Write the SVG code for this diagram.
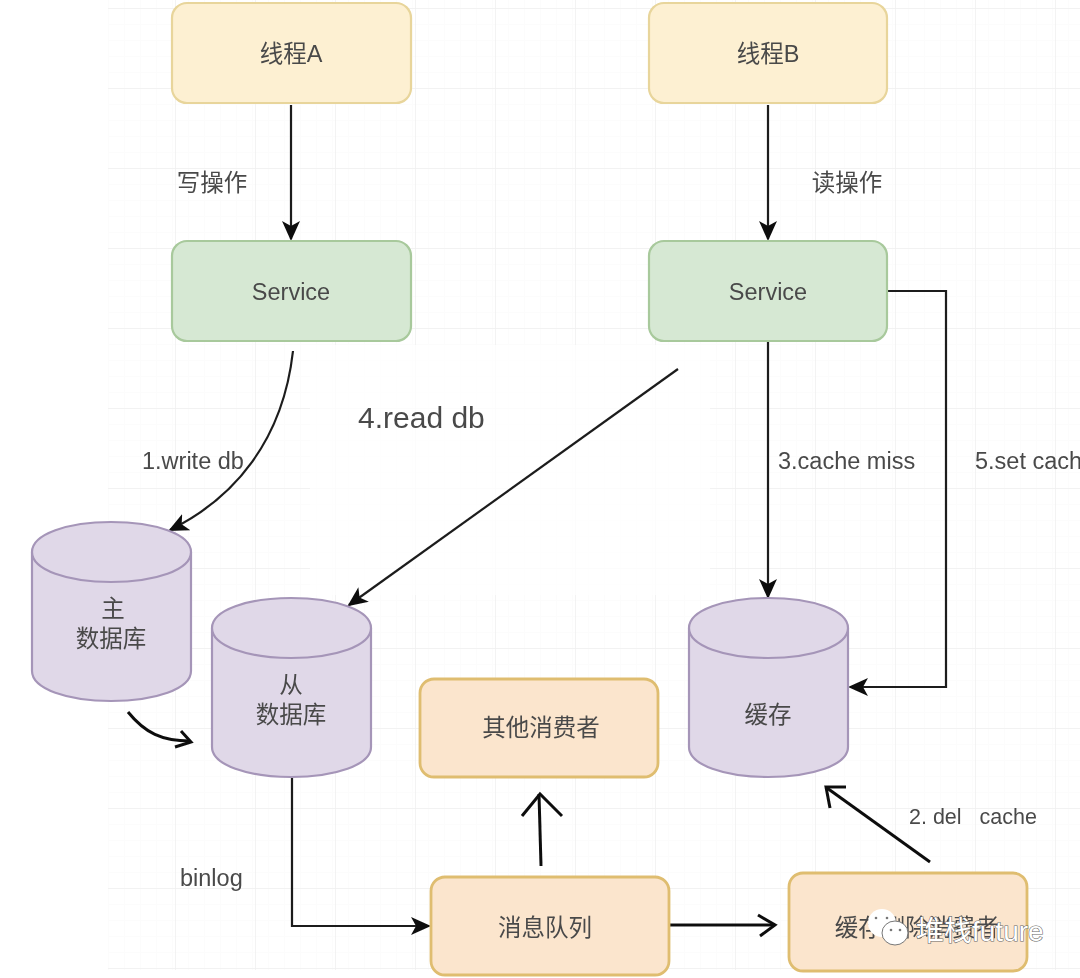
<svg xmlns="http://www.w3.org/2000/svg" width="1080" height="978" viewBox="0 0 1080 978">
<style>
text{font-family:"Liberation Sans","Noto Sans CJK SC",sans-serif;font-size:23.5px;fill:#4a4a4a;text-anchor:middle}
.lab{text-anchor:start}
.yellow{fill:#fdf0d2;stroke:#e8d59b;stroke-width:2.2}
.green{fill:#d6e8d3;stroke:#a8c99c;stroke-width:2.2}
.orange{fill:#fbe5cd;stroke:#dfbd70;stroke-width:2.8}
.db{fill:#e0d8e8;stroke:#a595b8;stroke-width:2.2}
.c{fill:none;stroke:#1f1f1f;stroke-width:2.2}
.h{fill:none;stroke:#111;stroke-width:3}
.mn{stroke:#fafafa;stroke-width:1}
.mj{stroke:#f0f0f0;stroke-width:1.5}
</style>
<defs>
<marker id="tipL" markerWidth="22" markerHeight="20" refX="18" refY="10" orient="auto" markerUnits="userSpaceOnUse" viewBox="0 0 22 20"><path d="M0 1L20 10L0 19L5 10Z" fill="#111"/></marker>
<pattern id="minor" x="108" y="8" width="16" height="16" patternUnits="userSpaceOnUse"><path d="M0 0H16M0 0V16" class="mn" fill="none"/></pattern>
<pattern id="major" x="15" y="8" width="80" height="80" patternUnits="userSpaceOnUse"><path d="M0 0H80M0 0V80" class="mj" fill="none"/></pattern>
<filter id="soft" x="-5%" y="-5%" width="110%" height="110%"><feGaussianBlur stdDeviation="0.5"/></filter>
</defs>
<rect width="1080" height="978" fill="#fff"/>
<g id="grid">
<rect x="108" y="0" width="972" height="970" fill="url(#minor)"/>
<rect x="108" y="0" width="972" height="970" fill="url(#major)"/>
<rect x="310" y="345" width="400" height="250" fill="#fff" opacity="0.75"/>
</g>
<g filter="url(#soft)">
<g id="connectors">
<path class="c" d="M291 105V239" marker-end="url(#tipL)"/>
<path class="c" d="M768 105V239" marker-end="url(#tipL)"/>
<path class="c" d="M293 351C283 440 235 498 170 530" marker-end="url(#tipL)"/>
<path class="c" d="M678 369L349 605" marker-end="url(#tipL)"/>
<path class="c" d="M768 341V597" marker-end="url(#tipL)"/>
<path class="c" d="M888 291H946V687H850" marker-end="url(#tipL)"/>
<path class="c" d="M292 778V926H429" marker-end="url(#tipL)"/>
<path class="h" d="M128 712C145 733 162 741 190 741"/>
<path class="h" d="M175 747L191 742L181 731"/>
<path class="h" d="M541 866L539 794"/>
<path class="h" d="M522 816L540 794L562 816"/>
<path class="h" d="M670 925H774"/>
<path class="h" d="M758 915L775 925L760 936"/>
<path class="h" d="M930 862L827 788"/>
<path class="h" d="M846 787L826 787L830 808"/>
</g>
<g id="thread-a"><rect class="yellow" x="172" y="3" width="239" height="100" rx="15"/><text x="291" y="62">线程A</text></g>
<g id="thread-b"><rect class="yellow" x="649" y="3" width="238" height="100" rx="15"/><text x="768" y="62">线程B</text></g>
<g id="service-a"><rect class="green" x="172" y="241" width="239" height="100" rx="15"/><text x="291" y="300">Service</text></g>
<g id="service-b"><rect class="green" x="649" y="241" width="238" height="100" rx="15"/><text x="768" y="300">Service</text></g>
<g id="master-db"><path class="db" d="M32 552C32 534 68 522 111 522C155 522 191 534 191 552V671C191 689 155 701 111 701C68 701 32 689 32 671Z"/><path class="db" d="M32 552C32 570 68 582 111 582C155 582 191 570 191 552"/><text x="113" y="617">主</text><text x="111" y="647">数据库</text></g>
<g id="replica-db"><path class="db" d="M212 628C212 610 248 598 291 598C335 598 371 610 371 628V747C371 765 335 777 291 777C248 777 212 765 212 747Z"/><path class="db" d="M212 628C212 646 248 658 291 658C335 658 371 646 371 628"/><text x="291" y="693">从</text><text x="291" y="723">数据库</text></g>
<g id="cache"><path class="db" d="M689 628C689 610 725 598 768 598C812 598 848 610 848 628V747C848 765 812 777 768 777C725 777 689 765 689 747Z"/><path class="db" d="M689 628C689 646 725 658 768 658C812 658 848 646 848 628"/><text x="768" y="723">缓存</text></g>
<g id="other-consumers"><rect class="orange" x="420" y="679" width="238" height="98" rx="14"/><text x="541" y="736">其他消费者</text></g>
<g id="message-queue"><rect class="orange" x="431" y="877" width="238" height="98" rx="14"/><text x="545" y="936">消息队列</text></g>
<g id="cache-delete"><rect class="orange" x="789" y="873" width="238" height="98" rx="14"/><text x="917" y="936">缓存删除消费者</text></g>
<g id="labels">
<text x="212" y="191">写操作</text>
<text x="847" y="191">读操作</text>
<text class="lab" x="142" y="469">1.write db</text>
<text class="lab" x="358" y="428" style="font-size:30px">4.read db</text>
<text class="lab" x="778" y="469">3.cache miss</text>
<text class="lab" x="975" y="469">5.set cache</text>
<text class="lab" x="180" y="886">binlog</text>
<text class="lab" x="909" y="824" xml:space="preserve" style="font-size:21.5px">2. del   cache</text>
</g>
</g>
<g id="watermark">
<ellipse cx="882" cy="923" rx="14" ry="14" fill="#fff"/>
<ellipse cx="895" cy="933" rx="13" ry="12" fill="#fff" stroke="#777" stroke-width="1"/>
<circle cx="876" cy="918" r="1.3" fill="#777"/><circle cx="887" cy="918" r="1.3" fill="#777"/>
<circle cx="891" cy="930" r="1.3" fill="#777"/><circle cx="900" cy="930" r="1.3" fill="#777"/>
<text class="lab" x="916" y="941" style="fill:#fff;stroke:#666;stroke-width:1.1;paint-order:stroke;font-size:28px">堆栈future</text>
</g>
</svg>
